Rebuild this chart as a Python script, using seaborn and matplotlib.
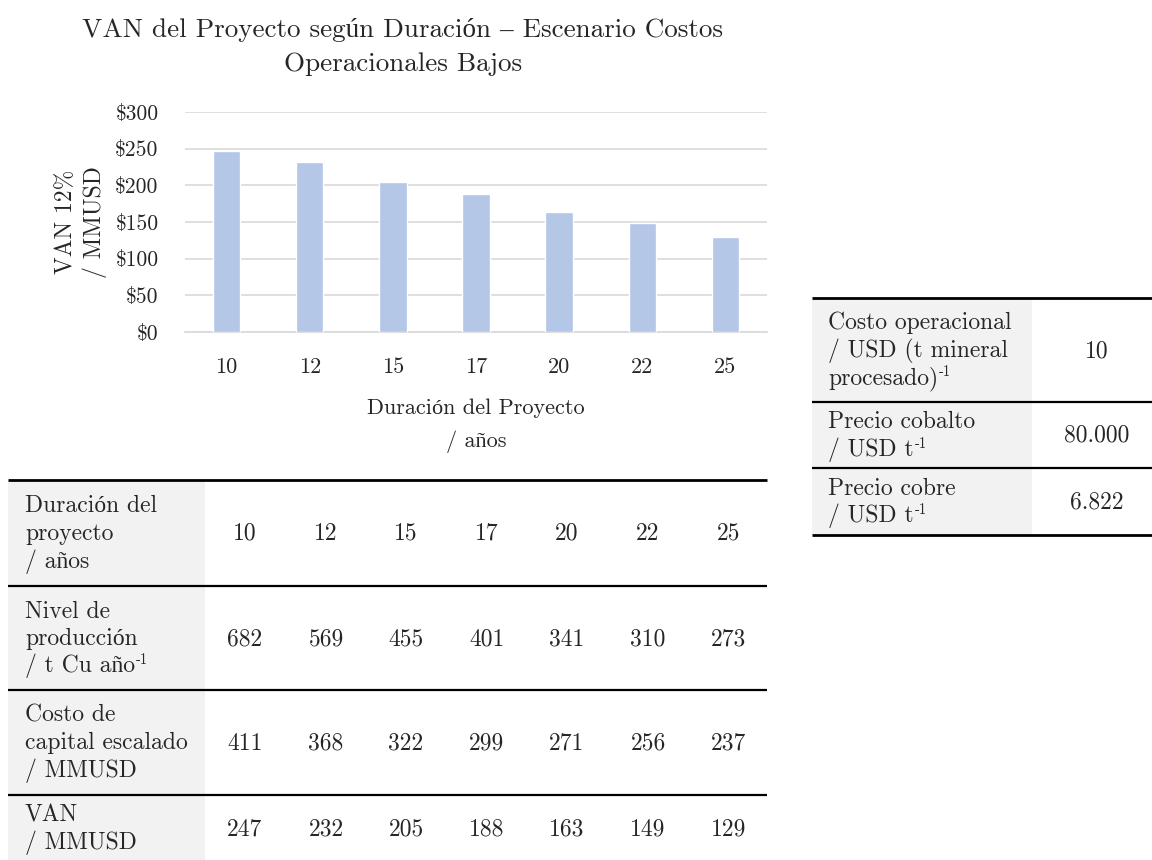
import matplotlib
matplotlib.use("Agg")
import matplotlib.pyplot as plt
from matplotlib.patches import Rectangle
import seaborn as sns
import pandas as pd

# ---------------- data ----------------
duracion = [10, 12, 15, 17, 20, 22, 25]
produccion = [682, 569, 455, 401, 341, 310, 273]
capex = [411, 368, 322, 299, 271, 256, 237]
van = [247, 232, 205, 188, 163, 149, 129]

y_ticks = [0, 50, 100, 150, 200, 250, 300]

# each label: list of (line text, superscript or "")
row_labels = [
    [("Duración del", ""), ("proyecto", ""), ("/ años", "")],
    [("Nivel de", ""), ("producción", ""), ("/ t Cu año", "-1")],
    [("Costo de", ""), ("capital escalado", ""), ("/ MMUSD", "")],
    [("VAN", ""), ("/ MMUSD", "")],
]
param_labels = [
    [("Costo operacional", ""), ("/ USD (t mineral", ""), ("procesado)", "-1")],
    [("Precio cobalto", ""), ("/ USD t", "-1")],
    [("Precio cobre", ""), ("/ USD t", "-1")],
]
param_values = ["10", "80.000", "6.822"]

title = "VAN del Proyecto según Duración – Escenario Costos\nOperacionales Bajos"
xlabel = "Duración del Proyecto\n/ años"
ylabel = "VAN 12%\n/ MMUSD"

# ---------------- style ----------------
sns.set_theme(style="white")
plt.rcParams["font.family"] = ["cmr10", "Liberation Serif", "DejaVu Serif"]
plt.rcParams["axes.formatter.use_mathtext"] = True

W, H = 1152, 860
fig = plt.figure(figsize=(W / 100, H / 100), dpi=100)
fig.patch.set_facecolor("white")

BAR = "#b4c7e7"
GRID = "#d9d9d9"
FILL = "#f2f2f2"
TXT = "#262626"

# ---------------- bar chart ----------------
ax = fig.add_axes([185 / W, 1 - 332 / H, 582 / W, 220 / H])
df = pd.DataFrame({"dur": [str(d) for d in duracion], "van": van})
sns.barplot(data=df, x="dur", y="van", color=BAR, width=0.33, saturation=1, ax=ax, zorder=3)
ax.set_ylim(0, 300)
ax.set_xlim(-0.5, len(duracion) - 0.5)
ax.set_yticks(y_ticks)
ax.set_yticklabels([f"${v}" for v in y_ticks])
ax.grid(axis="y", color=GRID, lw=1.2, zorder=0)
ax.grid(axis="x", visible=False)
for s in ["left", "right", "top"]:
    ax.spines[s].set_visible(False)
ax.spines["bottom"].set_color(GRID)
ax.spines["bottom"].set_linewidth(1.2)
ax.tick_params(axis="y", length=0, pad=19, labelsize=15.5, labelcolor=TXT)
ax.tick_params(axis="x", which="major", length=0, pad=18, labelsize=16, labelcolor=TXT)
ax.set_xticks([i - 0.5 for i in range(len(duracion) + 1)], minor=True)
ax.tick_params(axis="x", which="minor", length=7, color=GRID, width=1.2, direction="out")
ax.set_xlabel(xlabel, fontsize=16, color=TXT, labelpad=16, linespacing=1.75)
ax.set_ylabel(ylabel, fontsize=17, color=TXT, labelpad=6, linespacing=1.3)
ax.set_facecolor("none")

fig.text(403 / W, 1 - 18 / H, title, ha="center", va="top", fontsize=19.5,
         color=TXT, linespacing=1.55)

# ---------------- tables (pixel overlay) ----------------
tx = fig.add_axes([0, 0, 1, 1], zorder=-1)
tx.set_xlim(0, W)
tx.set_ylim(H, 0)
tx.axis("off")
renderer = fig.canvas.get_renderer()

FS = 17
LINE = 27.5


def draw_cell(x, yc, lines):
    n = len(lines)
    for i, (txt, sup) in enumerate(lines):
        yb = yc + (i - (n - 1) / 2) * LINE + 7
        t = tx.text(x, yb, txt, ha="left", va="baseline", fontsize=FS, color=TXT, zorder=3)
        if sup:
            bb = t.get_window_extent(renderer)
            x_end = bb.x1  # pixels == data units here
            tx.text(x_end + 1, yb - 8, sup, ha="left", va="baseline", fontsize=10.5,
                    color=TXT, zorder=3)


# bottom table
rows_bottom = [duracion, produccion, capex, van]
y_edges = [480, 586, 690, 795, 862]
col_x = [245, 326, 406, 487, 567, 648, 729]
for i, (lab, vals) in enumerate(zip(row_labels, rows_bottom)):
    y0, y1 = y_edges[i], y_edges[i + 1]
    tx.add_patch(Rectangle((8, y0), 197, y1 - y0, color=FILL, lw=0, zorder=1))
    yc = (y0 + y1) / 2
    draw_cell(25, yc, lab)
    for x, v in zip(col_x, vals):
        tx.text(x, yc + 7, str(v), ha="center", va="baseline", fontsize=FS, color=TXT, zorder=3)
for k, y in enumerate(y_edges[:-1]):
    tx.plot([8, 767], [y, y], color="black", lw=2.0 if k == 0 else 1.6, zorder=4,
            solid_capstyle="butt")

# right table
r_edges = [298, 402, 468, 535]
for i, (lab, val) in enumerate(zip(param_labels, param_values)):
    y0, y1 = r_edges[i], r_edges[i + 1]
    tx.add_patch(Rectangle((812, y0), 220, y1 - y0, color=FILL, lw=0, zorder=1))
    yc = (y0 + y1) / 2
    draw_cell(828, yc, lab)
    tx.text(1097, yc + 7, val, ha="center", va="baseline", fontsize=FS, color=TXT, zorder=3)
for k, y in enumerate(r_edges):
    tx.plot([812, 1152], [y, y], color="black", lw=2.0 if k in (0, len(r_edges) - 1) else 1.6,
            zorder=4, solid_capstyle="butt")

fig.savefig("out.png", dpi=100, facecolor="white")
